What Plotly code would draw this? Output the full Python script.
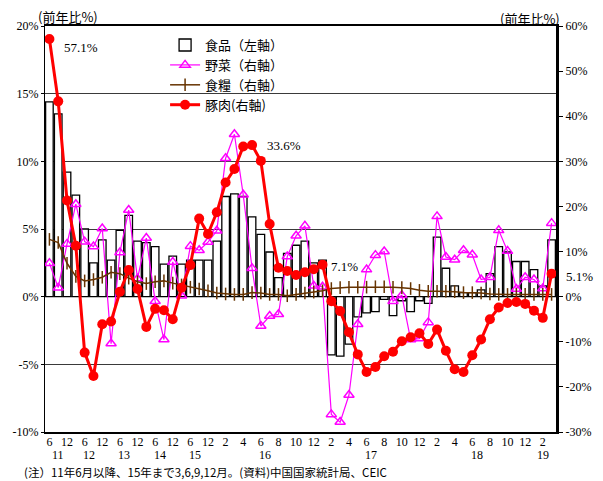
import plotly.graph_objects as go

# Monthly/quarterly series: 2011/6 .. 2015/12 quarterly, 2016/1 .. 2019/3 monthly
month_labels = ["6", "12", "6", "12", "6", "12", "6", "12", "6", "12",
                "2", "4", "6", "8", "10", "12",
                "2", "4", "6", "8", "10", "12",
                "2", "4", "6", "8", "10", "12",
                "2"]
year_labels = ["11", "12", "13", "14", "15", "16", "17", "18", "19"]

# 食品 (left axis, %)
food = [14.4, 13.5, 9.2, 7.5, 5.0, 2.5, 4.2, 2.7, 4.9, 6.0,
        4.1, 4.0, 3.7, 2.4, 3.0, 2.4, 2.7, 2.7, 2.7, 4.1,
        7.4, 7.6, 7.4, 5.9, 4.6, 3.3, 1.4, 3.2, 3.8, 4.1,
        2.5, 2.7, -4.3, -4.4, -3.5, -1.5, -1.2, -1.1, -0.2, -1.4,
        -0.3, -1.1, -0.3, -0.5, 4.4, 2.1, 0.8, 0.3, 0.3, 0.5,
        1.7, 3.7, 3.3, 2.6, 2.6, 2.0, 0.8, 4.2]

# 野菜 (right axis, %)
vegetables = [7.4, 2.0, 11.7, 20.5, 12.2, 11.1, 15.1, -10.4, 9.8, 19.2,
              4.0, 13.0, -1.0, -9.5, 7.7, 0.2, 11.2, 10.3, 12.1, 14.6,
              30.7, 36.0, 22.6, 6.3, -6.5, -4.3, -3.9, 8.9, 13.5, 15.7,
              2.4, 2.2, -26.1, -27.8, -21.8, -6.1, 6.0, 9.2, 10.0, -1.0,
              0.3, -9.5, -9.3, -5.7, 17.8, 8.8, 8.2, 10.3, 9.3, 3.8,
              4.3, 14.7, 10.1, 1.7, 4.3, 3.8, 1.8, 16.3]

# 食糧 (right axis, %)
grain = [12.7, 12.0, 7.4, 4.5, 3.5, 3.8, 4.3, 5.4, 5.1, 4.1,
         3.3, 2.9, 3.3, 3.5, 3.0, 2.6, 2.1, 1.7, 1.3, 0.8,
         0.6, 0.5, 0.5, 0.9, 0.8, 0.5, 0.5, 0.2, 0.5, 0.8,
         1.0, 1.3, 1.8, 2.0, 2.1, 2.1, 2.1, 2.2, 2.2, 2.1,
         2.0, 1.8, 1.4, 1.2, 1.2, 1.2, 1.1, 0.9, 0.9, 0.8,
         0.6, 0.5, 0.5, 0.5, 0.5, 0.5, 0.5, 0.5]

# 豚肉 (right axis, %)
pork = [57.1, 43.3, 21.3, 11.3, -12.4, -17.6, -6.1, -5.5, 1.1, 5.9,
        1.7, -6.7, -2.7, -3.0, -5.0, 2.0, 7.0, 17.3, 13.9, 18.7,
        25.3, 28.3, 33.3, 33.6, 30.1, 16.1, 6.4, 5.7, 4.8, 5.4,
        6.1, 7.1, -1.0, -3.2, -7.9, -12.8, -16.7, -15.6, -13.2, -12.2,
        -9.9, -9.0, -8.1, -10.5, -7.3, -12.0, -16.1, -16.7, -13.0, -9.5,
        -5.0, -2.4, -1.4, -1.2, -1.6, -3.1, -4.7, 5.1]

left_ticks = [-10, -5, 0, 5, 10, 15, 20]
right_ticks = [-30, -20, -10, 0, 10, 20, 30, 40, 50, 60]

idx = list(range(len(pork)))
SERIF = "Liberation Serif, Noto Sans CJK JP"
CJK = "Noto Sans CJK JP, Liberation Serif"

fig = go.Figure()
fig.add_trace(go.Bar(
    x=idx, y=food, name="食品（左軸）", yaxis="y", width=0.86,
    marker=dict(color="white", line=dict(color="black", width=1.3)),
))
fig.add_trace(go.Scatter(
    x=idx, y=vegetables, name="野菜（右軸）", yaxis="y2", mode="lines+markers",
    line=dict(color="#FF00FF", width=1.2),
    marker=dict(symbol="triangle-up-open", size=9, color="#FF00FF",
                line=dict(color="#FF00FF", width=1.5)),
))
fig.add_trace(go.Scatter(
    x=idx, y=grain, name="食糧（右軸）", yaxis="y2", mode="lines+markers",
    line=dict(color="#663300", width=1.5),
    marker=dict(symbol="line-ns-open", size=9, color="#663300",
                line=dict(color="#663300", width=1.5)),
))
fig.add_trace(go.Scatter(
    x=idx, y=pork, name="豚肉(右軸)", yaxis="y2", mode="lines+markers",
    line=dict(color="#FF0000", width=3),
    marker=dict(symbol="circle", size=10, color="#FF0000"),
))

# value callouts on the pork line
callouts = [(0, 13, 8), (23, 13, 0), (31, 6, 2), (57, 12, 3)]
for i, dx, dy in callouts:
    fig.add_annotation(x=idx[i], y=pork[i], xref="x", yref="y2",
                       text=f"{pork[i]:.1f}%", showarrow=False,
                       xanchor="left", yanchor="middle", xshift=dx, yshift=-dy,
                       font=dict(family=SERIF, size=13, color="black"))

# year row under the month ticks
year_pos = [1, 4.5, 8.5, 12.5, 16.5, 24.5, 36.5, 48.5, 56]
for lab, xp in zip(year_labels, year_pos):
    fig.add_annotation(x=xp, y=0, xref="x", yref="paper", text=lab,
                       showarrow=False, yanchor="middle", yshift=-23,
                       borderpad=0, font=dict(family=SERIF, size=12, color="black"))

fig.add_annotation(x=-0.043, y=0, xref="paper", yref="paper", xanchor="left",
                   yanchor="bottom", yshift=-49, showarrow=False, borderpad=0,
                   text="(注）11年6月以降、15年まで3,6,9,12月。(資料)中国国家統計局、CEIC",
                   font=dict(family=CJK, size=11.5, color="black"))
fig.add_annotation(x=-0.017, y=1, xref="paper", yref="paper", xanchor="left",
                   yanchor="middle", yshift=10, showarrow=False, text="(前年比%)",
                   font=dict(family=CJK, size=13, color="black"))
fig.add_annotation(x=1.012, y=1, xref="paper", yref="paper", xanchor="right",
                   yanchor="middle", yshift=8, showarrow=False, text="(前年比%)",
                   font=dict(family=CJK, size=13, color="black"))

fig.update_layout(
    width=603, height=481,
    margin=dict(l=43, r=46, t=26, b=49),
    paper_bgcolor="white", plot_bgcolor="white",
    showlegend=True,
    legend=dict(x=0.235, y=0.99, xanchor="left", yanchor="top",
                bgcolor="rgba(0,0,0,0)", borderwidth=0, tracegroupgap=0,
                font=dict(family=CJK, size=13, color="black"), itemwidth=30),
    bargap=0.1,
    xaxis=dict(range=[-0.5, len(idx) - 0.5], tickmode="array",
               tickvals=idx[0::2], ticktext=month_labels,
               showgrid=False, zeroline=False, showline=True, mirror=True,
               linecolor="black", linewidth=1.6, ticks="", ticklabelstandoff=-2,
               tickfont=dict(family=SERIF, size=12, color="black")),
    yaxis=dict(range=[-10, 20], tickmode="array", tickvals=left_ticks,
               ticktext=[f"{v}%" for v in left_ticks],
               showgrid=True, gridcolor="#3a3a3a", gridwidth=1,
               zeroline=False, showline=True, linecolor="black", linewidth=1.3,
               ticks="outside", ticklen=3, tickcolor="black",
               tickfont=dict(family=SERIF, size=12, color="black")),
    yaxis2=dict(range=[-30, 60], overlaying="y", side="right",
                tickmode="array", tickvals=right_ticks,
                ticktext=[f"{v}%" for v in right_ticks],
                showgrid=False, zeroline=False, showline=True,
                linecolor="black", linewidth=3,
                ticks="outside", ticklen=4, tickcolor="black",
                tickfont=dict(family=SERIF, size=12, color="black")),
)

fig.write_html("out.html")
